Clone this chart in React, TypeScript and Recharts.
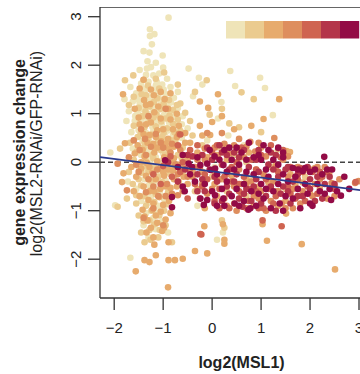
import React from "react";
import { ScatterChart, Scatter, XAxis, YAxis } from "recharts";

// colour bins (low -> high MSL1 binding)
const binColors = ["#EFE4B8", "#EBCB8F", "#E7AB6D", "#DE8E5E", "#CF6451", "#B4354A", "#930B46"];

const bin1: [number, number][] = [
  [-0.89,2.98],[-1.27,2.74],[-1.18,2.64],[-1.27,2.6],[-1.23,2.43],[-1.4,2.29],[-1.28,2.26],[-1.01,2.2],[-1.25,1.96],[-1.33,1.93],[-1.08,1.83],[-1.2,1.79],[-0.92,1.72],[-1.48,1.9],[-0.48,1.93],[-0.27,1.74],[0.37,1.88],[0.98,1.74],[0.47,1.57],[1.08,1.53],[-0.39,1.36],[0.19,1.24],[1.24,0.97],[0.33,0.55],[-0.2,1.6],
  [-1.67,1.55],[-1.45,1.62],[-1.3,1.66],[-1.15,1.58],[-1.02,1.6],[-0.85,1.55],[-1.55,1.42],[-1.38,1.45],[-1.22,1.41],[-1.1,1.37],[-0.95,1.4],[-0.78,1.33],[-1.62,1.25],[-1.48,1.22],[-1.32,1.28],[-1.18,1.2],[-1.05,1.25],[-0.9,1.18],[-0.7,1.12],[-1.7,1.05],[-1.52,1.02],[-1.4,1.08],[-1.25,1.0],[-1.12,1.05],[-0.98,0.98],[-0.82,1.02],[-0.6,0.95],[-1.58,0.85],[-1.45,0.88],[-1.3,0.8],[-1.15,0.86],[-1.03,0.78],[-0.88,0.82],[-0.72,0.76],[-0.5,0.7],[-1.65,0.62],[-1.5,0.66],[-1.35,0.6],[-1.2,0.64],[-1.08,0.58],[-0.95,0.62],[-0.8,0.55],[-0.62,0.5],[-1.42,0.45],[-1.28,0.42],[-1.12,0.4],[-0.98,0.46],[-0.85,0.38],
  [-2.08,0.2],[-1.62,0.28],[-1.45,0.15],[-1.3,0.22],[-1.15,0.1],[-1.0,0.18],[-0.88,0.05],[-1.5,-0.1],[-1.25,-0.05],[-1.08,-0.2],[-0.75,-0.15],[-1.38,-0.35],[-1.18,-0.42],[-0.95,-0.38],[-1.55,-0.55],[-1.72,-0.4],[-1.98,-0.89],
  [-1.45,-0.8],[-1.25,-0.72],[-1.1,-0.9],[-1.35,-1.05],[-1.2,-1.15],[-1.02,-1.22],[-1.4,-1.3],[-1.15,-1.38],[-1.67,-1.97],[-1.3,-1.55],[-0.9,-1.45],[-1.2,-0.55],
  [0.12,0.9],[-0.1,0.45],[0.25,0.2],[0.55,0.05],[0.05,-0.1],[0.4,-0.45],[0.8,-0.3],[0.1,-1.6],[0.22,-1.45],[-0.3,-0.9],[0.65,0.35],[1.3,0.2],
  [-1.36,1.52],[-1.17,1.47],[-0.99,1.5],[-1.52,1.3],[-1.26,1.33],[-1.06,1.29],[-0.84,1.23],[-1.44,1.14],[-1.21,1.11],[-0.93,1.06],[-0.76,0.93],[-1.34,0.91],[-1.09,0.93],[-0.86,0.66],[-1.22,0.73],[-1.41,0.72],[-1.03,0.36],[-1.33,0.33],[-1.17,0.27],[-0.93,0.24],[-1.27,0.06],[-1.05,0.02],[-1.37,-0.15],[-1.14,-0.27],[-1.29,-0.47],[-1.07,-0.63],[-1.33,-0.85],[-1.16,-1.03],[-1.31,-1.2],[-0.98,-0.76],[-1.57,0.95],[-1.13,1.66],[-1.35,1.8],[-1.0,1.95],[-1.15,2.05],[-1.32,2.08],[-0.7,1.45],[-0.62,0.78],[-1.75,0.85],[-1.79,1.3],
];

const bin2: [number, number][] = [
  [-1.78,1.69],[-1.61,1.79],[-1.4,1.7],[-1.15,1.72],[-0.98,1.85],[-0.7,1.6],[-0.11,1.69],[-0.35,1.45],[-1.6,1.35],[-1.35,1.38],[-1.12,1.32],[-0.88,1.28],[-0.65,1.21],[-1.7,1.18],[-1.5,1.12],[-1.28,1.15],[-1.05,1.1],[-0.8,1.08],[-0.55,1.02],[-1.42,0.95],[-1.2,0.92],[-0.95,0.9],[-0.7,0.88],[-0.45,0.85],[-1.6,0.75],[-1.38,0.72],[-1.15,0.74],[-0.92,0.7],[-0.65,0.65],[-1.52,0.52],[-1.3,0.5],[-1.02,0.52],[-0.75,0.45],[-0.4,0.55],[-1.68,0.4],[-1.2,0.32],[-0.6,0.3],
  [0.6,1.44],[0.85,1.3],[0.2,1.1],[-0.05,0.98],[0.35,0.8],[0.55,0.72],[1.0,0.62],
  [-1.88,0.28],[-1.4,0.3],[-1.05,0.25],[-0.9,0.3],[-0.7,0.15],[-1.6,0.05],[-1.35,0.02],[-1.2,0.08],[-0.98,-0.02],[-0.82,-0.08],[-1.45,-0.22],[-1.3,-0.18],[-1.1,-0.3],[-0.85,-0.25],[-0.6,-0.2],[-1.62,-0.45],[-1.45,-0.48],[-1.25,-0.58],[-1.05,-0.52],[-0.9,-0.62],[-1.74,-0.75],
  [-1.55,-0.85],[-1.35,-0.9],[-1.18,-0.82],[-0.98,-1.0],[-1.5,-1.1],[-1.28,-1.2],[-1.08,-1.1],[-1.45,-1.45],[-1.28,-1.4],[-1.1,-1.55],[-0.95,-1.3],[-1.38,-1.65],[-0.82,-1.65],[-1.93,-0.92],
  [-0.2,0.35],[0.15,0.3],[0.45,0.15],[0.9,0.05],[0.0,-0.3],[0.3,-0.6],[0.7,-0.7],[1.2,-0.1],[1.5,-0.55],[0.2,-1.2],[0.25,-1.35],[-0.35,-0.6],[1.9,-0.3],[0.7,0.0],
  [-1.31,1.58],[-1.08,1.52],[-1.44,1.4],[-1.19,1.24],[-0.99,1.2],[-0.72,1.18],[-1.36,1.05],[-1.14,0.98],[-0.87,0.96],[-1.27,0.87],[-1.04,0.84],[-0.8,0.79],[-1.46,0.58],[-1.24,0.57],[-0.99,0.6],[-0.77,0.62],[-1.38,0.4],[-1.1,0.45],[-0.84,0.45],[-1.54,0.22],[-1.22,0.15],[-0.96,0.16],[-0.62,0.08],[-1.4,-0.08],[-1.16,-0.12],[-0.92,-0.2],[-0.68,-0.4],[-1.5,-0.35],[-1.24,-0.38],[-1.02,-0.41],[-1.38,-0.7],[-1.15,-0.66],[-0.94,-0.87],[-1.24,-1.0],[-1.4,-1.22],[-1.18,-1.28],[-1.07,-1.4],[-1.26,-1.6],[-1.55,-0.68],[-1.7,-0.2],
];

const bin3: [number, number][] = [
  [-1.82,1.4],[-1.4,1.7],[0.12,1.4],[1.37,1.3],[-0.08,1.12],[0.0,0.83],[-0.04,0.56],[-1.48,1.52],[-1.25,1.5],[-1.05,1.45],[-0.85,1.42],[-1.58,1.1],[-1.35,1.18],[-1.1,1.15],[-0.72,1.0],[-1.48,0.78],[-1.25,0.82],[-1.0,0.68],[-0.8,0.68],[-1.4,0.58],[-1.15,0.52],[-0.9,0.48],[-0.55,0.6],[-0.25,0.75],[0.8,0.75],[1.05,0.89],[-0.25,1.25],[0.2,0.95],[0.45,0.68],
  [-1.78,0.39],[-1.81,-0.23],[-1.84,-0.41],[-1.52,0.35],[-1.32,0.4],[-1.12,0.3],[-0.95,0.38],[-0.78,0.32],[-0.55,0.4],[-1.58,0.18],[-1.38,0.12],[-1.18,0.2],[-0.98,0.1],[-0.78,0.08],[-0.6,0.15],[-1.65,-0.1],[-1.45,0.0],[-1.28,-0.1],[-1.05,-0.1],[-0.9,-0.15],[-0.7,-0.05],[-0.5,0.05],[-1.55,-0.3],[-1.35,-0.28],[-1.15,-0.35],[-0.98,-0.28],[-0.78,-0.35],[-0.58,-0.3],[-1.4,-0.5],[-1.18,-0.6],[-0.95,-0.5],[-0.72,-0.5],[-0.5,-0.45],
  [-1.48,-0.7],[-1.3,-0.78],[-1.08,-0.72],[-0.88,-0.8],[-1.42,-0.98],[-1.22,-0.98],[-1.05,-1.02],[-0.85,-1.05],[-1.32,-1.2],[-1.12,-1.25],[-0.95,-1.18],[-1.25,-1.35],[-1.02,-1.42],[-1.18,-1.7],[-1.38,-2.02],[-1.28,-2.06],[-1.15,-1.92],[-0.89,-2.02],[-0.76,-2.02],[-0.6,-1.99],[-0.9,-2.58],[-1.56,-2.25],[-0.89,-1.65],[-0.35,-1.83],[-0.1,-1.88],[-0.16,-1.32],[0.22,-1.28],[0.25,-1.6],[0.25,-1.68],[1.51,-1.06],[1.12,-1.62],[1.83,-1.69],[2.51,-2.21],[1.03,-1.28],
  [-0.3,0.2],[-0.1,0.1],[0.1,0.15],[0.3,0.05],[0.5,0.25],[0.75,0.2],[1.0,0.3],[1.3,-0.05],[1.52,0.23],[1.59,0.21],[2.1,-0.12],[2.39,-0.23],[-0.2,-0.2],[0.2,-0.35],[0.6,-0.45],[0.95,-0.5],[1.3,-0.6],[1.7,-0.45],[2.2,-0.55],[0.1,-0.7],[0.45,-0.85],[0.85,-0.9],[1.5,-0.8],[-0.15,-0.95],[2.51,-0.51],
  [-1.19,1.38],[-0.97,1.3],[-1.39,1.28],[-1.26,1.2],[-0.9,1.1],[-1.18,1.03],[-1.5,0.92],[-1.05,0.9],[-0.85,0.88],[-1.35,0.78],[-1.12,0.66],[-0.68,0.75],[-1.28,0.56],[-1.04,0.43],[-0.72,0.52],[-1.42,0.25],[-1.2,0.38],[-0.88,0.27],[-0.68,0.33],[-1.33,-0.02],[-1.12,0.02],[-0.82,0.0],[-0.6,-0.1],[-1.45,-0.13],[-1.22,-0.22],[-1.0,-0.2],[-0.8,-0.17],[-1.28,-0.6],[-1.06,-0.55],[-0.85,-0.53],[-1.6,-0.6],[-1.2,-0.85],[-1.0,-0.88],[-1.38,-1.12],[-1.15,-1.1],[-0.98,-1.35],[-1.34,-1.45],[-1.2,-1.55],[-0.4,-0.2],[-0.3,-0.55],[0.05,-0.45],[0.4,-0.28],[0.7,-0.35],[1.15,-0.42],[1.85,-0.42],[0.9,-0.15],[0.3,0.3],[1.6,-0.25],[-0.45,0.4],[-0.2,0.55],[2.0,-0.65],[1.35,-0.9],
];

const bin4: [number, number][] = [
  [1.27,0.5],[0.78,0.42],[0.2,0.6],[-0.1,0.6],[0.55,0.48],[1.55,0.12],[-1.3,0.95],[-0.95,1.1],[-1.45,0.68],[-0.68,0.58],
  [-1.93,-0.03],[-1.74,-0.58],[-1.7,0.1],[-1.48,0.25],[-1.25,0.32],[-1.05,0.4],[-0.85,0.2],[-0.65,0.25],[-1.5,-0.2],[-1.3,-0.35],[-1.12,-0.15],[-0.92,-0.45],[-0.7,-0.25],[-0.45,-0.15],[-1.35,-0.62],[-1.1,-0.7],[-0.82,-0.65],[-0.6,-0.6],[-1.2,-0.95],[-1.0,-1.3],[-1.4,-1.15],
  [-0.3,0.05],[-0.15,0.28],[0.05,0.3],[0.25,0.38],[0.45,0.35],[0.65,0.1],[0.88,0.22],[1.1,0.12],[1.35,0.28],[1.45,0.05],[1.7,-0.12],[2.0,-0.15],[2.3,-0.1],[2.44,-0.43],[2.92,-0.43],[2.99,-0.39],[-0.4,-0.3],[-0.2,-0.45],[0.05,-0.2],[0.3,-0.25],[0.55,-0.15],[0.8,-0.4],[1.05,-0.25],[1.25,-0.4],[1.55,-0.3],[1.85,-0.6],[2.05,-0.7],[2.35,-0.75],[0.0,-0.55],[0.25,-0.75],[0.6,-0.65],[0.95,-0.75],[1.2,-0.8],[1.5,-0.95],[1.8,-0.85],[-0.25,-0.75],[0.5,-1.0],[1.42,-0.85],[0.7,-0.95],[2.2,-0.35],[1.9,-0.15],
  [-1.37,0.48],[-1.15,0.58],[-0.82,0.38],[-1.6,0.45],[-1.35,0.15],[-1.0,0.3],[-0.75,-0.05],[-1.55,-0.05],[-1.2,-0.5],[-0.95,-0.7],[-0.7,-0.68],[-0.5,-0.3],[-0.35,-0.1],[-0.15,0.05],[0.12,0.1],[0.35,0.18],[0.7,0.32],[0.95,0.4],[1.3,-0.1],[1.6,-0.12],[1.75,-0.1],[2.15,-0.1],[0.15,-0.35],[0.45,-0.5],[0.7,-0.45],[1.0,-0.6],[1.35,-0.6],[1.65,-0.55],[2.1,-0.45],[0.3,-0.9],[0.85,-0.7],[1.1,-1.0],[1.65,-0.95],[-0.1,-0.65],[2.5,-0.7],[2.6,-0.35],
];

const bin5: [number, number][] = [
  [-0.65,0.57],[-0.22,-1.49],[1.03,-1.2],[1.42,-1.32],[-0.24,-1.48],[2.93,-0.41],
  [-0.82,-0.3],[-1.2,-0.25],[-1.0,-0.08],[-0.6,0.0],[-0.45,0.25],[-0.25,-0.1],[0.0,0.2],[0.2,-0.05],[0.4,-0.1],[0.6,0.3],[0.8,0.05],[1.0,0.15],[1.2,0.35],[1.4,0.1],[1.6,-0.1],[1.8,-0.12],[2.05,-0.2],[2.25,-0.3],[-0.35,-0.45],[-0.1,-0.35],[0.15,-0.55],[0.4,-0.4],[0.65,-0.3],[0.9,-0.6],[1.15,-0.55],[1.35,-0.2],[1.6,-0.65],[1.95,-0.5],[2.15,-0.65],[0.05,-0.8],[0.35,-0.95],[0.75,-0.8],[1.05,-0.95],[1.3,-0.7],[1.7,-0.75],[-0.5,-0.75],[-1.05,-0.45],[-0.85,0.12],[2.5,-0.55],
  [-0.7,0.35],[-0.3,0.35],[0.1,0.35],[0.5,0.0],[0.9,-0.15],[1.1,-0.35],[1.45,0.25],[1.75,-0.35],[2.35,-0.2],[-0.15,-0.25],[0.25,-0.3],[0.55,-0.45],[0.8,-0.55],[1.25,-0.85],[1.55,-0.5],[1.9,-0.8],[0.15,-0.95],[0.55,-0.6],[-0.65,-0.2],[-0.2,-0.5],[0.95,-0.95],[2.2,-0.2],[1.85,-0.2],
];

const bin6: [number, number][] = [
  [-0.4,0.12],[-0.2,0.15],[0.0,0.05],[0.2,0.2],[0.35,-0.15],[0.55,0.1],[0.75,-0.1],[0.95,0.25],[1.15,-0.05],[1.3,0.15],[1.5,-0.15],[1.75,-0.25],[2.0,-0.35],[2.3,-0.45],[-0.3,-0.25],[-0.05,-0.15],[0.1,-0.4],[0.3,-0.5],[0.5,-0.25],[0.7,-0.55],[0.9,-0.35],[1.1,-0.7],[1.25,-0.15],[1.45,-0.5],[1.65,-0.4],[1.85,-0.7],[2.1,-0.8],[-0.15,-0.6],[0.2,-0.8],[0.55,-0.75],[0.85,-0.5],[1.0,-0.85],[1.4,-0.65],[1.6,-0.85],[-0.7,-0.4],[-0.55,-0.15],[-0.9,0.0],[0.45,0.2],[1.95,-0.1],[2.4,-0.3],[0.15,0.35],[0.62,-0.92],
  [-0.5,0.15],[-0.1,0.3],[0.3,0.15],[0.65,0.25],[0.9,0.05],[1.2,0.2],[1.55,-0.1],[1.8,-0.15],[2.15,-0.3],[-0.2,-0.35],[0.05,-0.3],[0.45,-0.4],[0.65,-0.65],[0.95,-0.2],[1.2,-0.5],[1.35,-0.3],[1.75,-0.7],[2.0,-0.55],[2.25,-0.75],[0.05,-0.85],[0.35,-0.65],[0.8,-0.8],[1.3,-1.0],[1.55,-0.6],[2.5,-0.45],[-0.3,-0.6],
];

const bin7: [number, number][] = [
  [2.29,0.11],[2.43,-0.78],[2.63,-0.69],[0.46,-0.85],[0.78,-0.95],[0.74,-0.98],[1.38,-0.85],[-0.96,0.04],[-0.48,-0.03],[-0.41,-0.1],[-0.24,-0.06],[-0.1,-0.03],[-0.03,-0.16],[0.06,-0.13],[0.23,-0.06],[-0.82,-0.72],[-0.82,-0.93],[-0.6,-0.5],[-0.56,-0.6],[-0.24,-0.75],[-0.1,-0.78],[0.06,-0.68],[0.23,-0.75],[0.1,-0.9],[-0.17,-0.88],
  [0.4,0.05],[0.6,0.2],[0.85,0.1],[1.05,0.35],[1.25,0.05],[1.45,0.2],[1.65,-0.12],[1.9,-0.12],[2.1,-0.15],[0.3,-0.2],[0.5,-0.55],[0.7,-0.2],[0.85,-0.25],[1.0,-0.45],[1.15,-0.3],[1.35,-0.45],[1.55,-0.4],[1.75,-0.55],[1.95,-0.65],[2.2,-0.6],[0.2,-0.55],[0.4,-0.7],[0.65,-0.8],[0.95,-0.65],[1.2,-0.95],[1.5,-0.7],[1.8,-0.95],[2.05,-0.9],[2.3,-0.65],[0.15,0.05],[-0.35,-0.4],[1.0,0.05],[1.35,0.3],[2.35,-0.15],[-0.05,0.25],[0.55,-0.05],[1.1,-0.15],[2.7,-0.3],[2.8,-0.55],[2.45,-0.15],[0.35,0.3],[0.75,0.4],
  [-0.3,0.1],[0.05,0.12],[0.25,0.25],[0.5,0.3],[0.7,0.05],[0.95,0.15],[1.15,0.25],[1.35,-0.05],[1.45,0.1],[1.75,-0.15],[2.0,-0.2],[2.25,-0.25],[-0.15,-0.45],[0.1,-0.25],[0.3,-0.4],[0.45,-0.15],[0.65,-0.45],[0.8,-0.6],[1.05,-0.75],[1.25,-0.6],[1.45,-0.25],[1.65,-0.75],[1.9,-0.45],[2.15,-0.45],[2.4,-0.55],[0.0,-0.6],[0.25,-0.9],[0.55,-0.9],[0.9,-0.9],[1.1,-0.55],[1.45,-1.0],[1.7,-0.3],[2.0,-0.85],[-0.45,-0.25],[-0.7,-0.1],[-0.6,0.15],[1.85,-0.18],[2.55,-0.6],
];

const bins = [bin1, bin2, bin3, bin4, bin5, bin6, bin7];

const xTicks = [-2, -1, 0, 1, 2, 3];
const yTicks = [-2, -1, 0, 1, 2, 3];
const xDomain: [number, number] = [-2.29, 3.49];
const yDomain: [number, number] = [-2.8, 3.2];

// linear fit of expression change on MSL1
const fitIntercept = -0.19;
const fitSlope = -0.128;

const xTitle = "log2(MSL1)";
const yTitle1 = "gene expression change";
const yTitle2 = "log2(MSL2-RNAi/GFP-RNAi)";

const FONT = "'Liberation Sans', Arial, Helvetica, sans-serif";
const AXIS = "#333";

const fmt = (v: number) => (v < 0 ? "\u2212" + Math.abs(v) : String(v));

const YTick = (props: any) => {
  const { x, y, payload } = props;
  return (
    <text
      x={x}
      y={y}
      transform={`rotate(-90 ${x} ${y})`}
      textAnchor="middle"
      fontSize={15}
      fontFamily={FONT}
      fill="#222"
    >
      {fmt(payload.value)}
    </text>
  );
};

const Dot = (color: string) => (p: any) => (
  <circle cx={p.cx} cy={p.cy} r={3.3} fill={color} stroke="none" />
);

const NoDot = () => <g />;

export default function App() {
  const W = 400;
  const H = 374;
  const zeroLine = xDomain.map((x) => ({ x, y: 0 }));
  const fitLine = xDomain.map((x) => ({ x, y: fitIntercept + fitSlope * x }));
  return (
    <div style={{ position: "absolute", left: 0, top: 0, width: 360, height: 374, overflow: "hidden", background: "#fff" }}>
      <ScatterChart width={W} height={H} margin={{ top: 7, right: W - 383, bottom: 0, left: 0 }}>
        <XAxis
          type="number"
          dataKey="x"
          domain={xDomain}
          ticks={xTicks}
          allowDataOverflow
          interval={0}
          height={76}
          tickSize={12}
          tickMargin={12}
          tickFormatter={fmt}
          axisLine={{ stroke: AXIS, strokeWidth: 1.3 }}
          tickLine={{ stroke: AXIS, strokeWidth: 1.3 }}
          tick={{ fontSize: 15, fontFamily: FONT, fill: "#222" }}
        />
        <YAxis
          type="number"
          dataKey="y"
          domain={yDomain}
          ticks={yTicks}
          allowDataOverflow
          interval={0}
          width={100}
          tickSize={12}
          tickMargin={7}
          axisLine={{ stroke: AXIS, strokeWidth: 1.3 }}
          tickLine={{ stroke: AXIS, strokeWidth: 1.3 }}
          tick={<YTick />}
        />
        <Scatter
          data={[{ x: xDomain[0], y: yDomain[1] }, { x: xDomain[1], y: yDomain[1] }]}
          line={{ stroke: AXIS, strokeWidth: 1.3 }}
          shape={NoDot}
          isAnimationActive={false}
        />
        <Scatter
          data={zeroLine}
          line={{ stroke: "#444", strokeWidth: 1.5, strokeDasharray: "5 3" }}
          shape={NoDot}
          isAnimationActive={false}
        />
        {bins.map((b, i) => (
          <Scatter
            key={i}
            data={b.map(([x, y]) => ({ x, y }))}
            shape={Dot(binColors[i])}
            isAnimationActive={false}
          />
        ))}
        <Scatter
          data={fitLine}
          line={{ stroke: "#2B3C8E", strokeWidth: 1.7 }}
          shape={NoDot}
          isAnimationActive={false}
        />
      </ScatterChart>
      <svg width={360} height={374} style={{ position: "absolute", left: 0, top: 0, pointerEvents: "none" }}>
        {binColors.map((c, i) => (
          <rect key={c} x={226 + i * 19} y={21} width={19.2} height={17.5} fill={c} />
        ))}
        <text
          x={25}
          y={152.5}
          transform="rotate(-90 25 152.5)"
          textAnchor="middle"
          fontSize={16}
          fontWeight="bold"
          fontFamily={FONT}
          fill="#222"
        >
          {yTitle1}
        </text>
        <text
          x={42}
          y={153.5}
          transform="rotate(-90 42 153.5)"
          textAnchor="middle"
          fontSize={16}
          fontFamily={FONT}
          fill="#222"
        >
          {yTitle2}
        </text>
        <text x={241.5} y={368} textAnchor="middle" fontSize={16} fontWeight="bold" fontFamily={FONT} fill="#222">
          {xTitle}
        </text>
      </svg>
    </div>
  );
}
